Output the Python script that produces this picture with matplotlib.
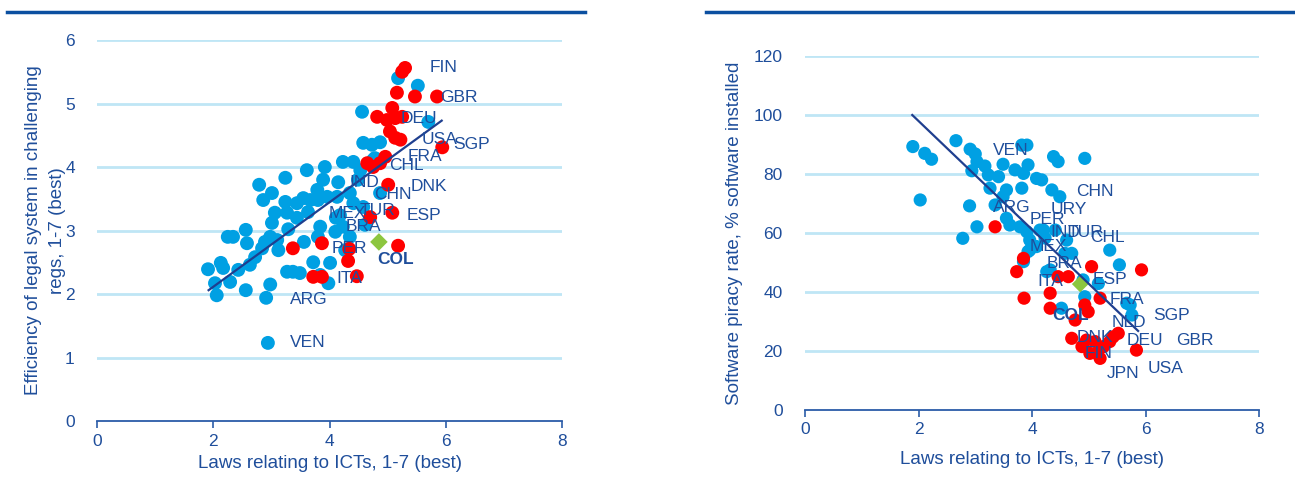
import matplotlib
matplotlib.use("Agg")
import matplotlib.pyplot as plt
from matplotlib.lines import Line2D

plt.rcParams['font.family'] = ['Liberation Sans', 'DejaVu Sans']

TXT = '#1F4E9B'
BLUE = '#00A0E3'
RED = '#FF0000'
GREEN = '#8CC63F'
GRID = '#BFE6F5'
SPINE = '#2B5CA8'
TREND = '#1F3F8F'

# ---------------- Left panel data ----------------
left_blue_x = [2.94, 2.91, 2.98, 2.56, 2.06, 1.91, 2.03, 2.13, 2.17, 2.29, 2.25, 2.34, 2.43, 2.56,
               2.58, 2.63, 2.72, 2.79, 2.86, 2.84, 2.89, 3.01, 2.98, 3.01, 3.06, 3.10, 3.12, 3.24,
               3.24, 3.27, 3.29, 3.27, 3.37, 3.49, 3.44, 3.44, 3.55, 3.56, 3.61, 3.63, 3.67, 3.79,
               3.80, 3.84, 3.80, 3.72, 3.84, 3.92, 3.89, 3.96, 4.01, 3.98, 4.15, 4.13, 4.18, 4.23,
               4.23, 4.41, 4.35, 4.41, 4.49, 4.53, 4.75, 4.35, 5.18, 5.52, 4.56, 4.58, 4.73, 4.87,
               4.78, 5.70, 4.58, 4.11, 4.87, 4.10, 4.27, 4.61]
left_blue_y = [1.23, 1.94, 2.15, 2.06, 1.98, 2.39, 2.17, 2.49, 2.41, 2.19, 2.90, 2.90, 2.38, 3.01,
               2.80, 2.46, 2.58, 3.72, 3.48, 2.72, 2.82, 3.59, 2.90, 3.12, 3.28, 2.85, 2.69, 3.83,
               3.45, 3.28, 3.02, 2.35, 2.35, 2.33, 3.20, 3.43, 3.51, 2.82, 3.95, 3.29, 3.48, 3.64,
               3.48, 3.06, 2.90, 2.50, 2.30, 4.00, 3.80, 3.53, 2.49, 2.17, 3.76, 3.53, 3.24, 3.06,
               4.08, 4.08, 3.59, 3.43, 3.80, 3.95, 4.11, 2.90, 5.40, 5.28, 4.87, 4.38, 4.35, 4.39,
               4.14, 4.71, 3.37, 3.20, 3.59, 2.98, 2.69, 3.09]
left_red_x = [5.30, 5.25, 5.16, 5.47, 5.85, 5.08, 4.82, 4.99, 5.13, 5.25, 5.04, 5.13, 5.22, 4.96,
              4.87, 4.65, 4.75, 5.94, 5.01, 5.08, 4.70, 5.18, 3.37, 3.87, 3.72, 3.87, 4.32, 4.47, 4.34]
left_red_y = [5.56, 5.50, 5.17, 5.11, 5.11, 4.93, 4.79, 4.74, 4.77, 4.79, 4.56, 4.46, 4.43, 4.16,
              4.06, 4.06, 4.00, 4.31, 3.72, 3.28, 3.21, 2.76, 2.72, 2.80, 2.27, 2.27, 2.52, 2.28, 2.71]
left_col = (4.85, 2.82)
left_trend_x = [1.92, 5.93]
left_trend_y = [2.06, 4.73]
left_labels = ['FIN', 'GBR', 'DEU', 'USA', 'SGP', 'FRA', 'CHL', 'DNK', 'IND', 'CHN', 'TUR', 'MEX',
               'ESP', 'BRA', 'PER', 'COL', 'ITA', 'ARG', 'VEN']
left_label_x = [5.73, 5.90, 5.22, 5.59, 6.13, 5.35, 5.03, 5.39, 4.34, 4.77, 4.51, 3.99,
                5.32, 4.27, 4.04, 4.82, 4.11, 3.32, 3.32]
left_label_y = [5.56, 5.09, 4.76, 4.43, 4.35, 4.16, 4.03, 3.69, 3.75, 3.57, 3.32, 3.26,
                3.24, 3.06, 2.72, 2.54, 2.25, 1.92, 1.23]

# ---------------- Right panel data ----------------
right_blue_x = [1.90, 2.11, 2.23, 2.66, 2.91, 3.00, 3.03, 2.94, 3.17, 3.23, 3.41, 3.49, 3.70, 3.82,
                3.91, 3.93, 3.85, 4.08, 4.17, 3.82, 3.55, 3.49, 3.26, 4.38, 4.46, 4.35, 4.49, 2.03,
                2.90, 3.35, 3.55, 3.03, 2.78, 3.79, 3.91, 4.20, 4.08, 3.96, 3.85, 4.32, 4.93, 5.37,
                5.54, 4.93, 5.17, 4.70, 4.61, 4.41, 4.14, 3.93, 4.58, 4.26, 4.90, 4.52, 5.73, 5.76,
                5.67, 3.61, 3.96, 4.23]
right_blue_y = [89.3, 87.0, 85.0, 91.3, 88.4, 86.8, 84.2, 81.1, 82.7, 79.7, 79.1, 83.3, 81.4, 89.8,
                89.8, 83.1, 80.2, 78.5, 78.0, 75.2, 74.6, 72.3, 75.2, 85.9, 84.2, 74.6, 72.3, 71.2,
                69.2, 69.5, 65.0, 62.1, 58.2, 62.1, 60.4, 61.0, 55.4, 54.2, 50.3, 47.5, 85.3, 54.2,
                49.2, 38.4, 42.9, 53.1, 57.6, 61.0, 61.0, 53.7, 53.1, 46.9, 44.1, 34.5, 35.6, 32.2,
                36.2, 62.7, 57.6, 58.3]
right_red_x = [3.35, 3.73, 3.85, 4.46, 4.64, 5.93, 5.05, 4.32, 3.86, 4.32, 4.93, 4.99, 4.76, 5.20,
               5.84, 4.70, 4.88, 4.96, 5.14, 5.26, 5.43, 5.52, 5.20, 5.02, 5.11, 5.37]
right_red_y = [62.1, 46.9, 51.4, 45.2, 45.2, 47.5, 48.6, 39.6, 37.9, 34.5, 35.6, 33.3, 30.5, 37.9,
               20.3, 24.3, 21.5, 23.7, 19.2, 21.5, 24.8, 26.0, 17.5, 19.2, 23.2, 23.2]
right_col = (4.85, 42.7)
right_trend_x = [1.89, 5.87]
right_trend_y = [100.0, 26.8]
right_labels = ['VEN', 'CHN', 'ARG', 'URY', 'PER', 'IND', 'TUR', 'CHL', 'MEX', 'BRA', 'ESP', 'ITA',
                'FRA', 'COL', 'SGP', 'NLD', 'DNK', 'DEU', 'GBR', 'FIN', 'JPN', 'USA']
right_label_x = [3.31, 4.78, 3.31, 4.32, 3.96, 4.32, 4.62, 5.02, 3.96, 4.26, 5.07, 4.09,
                 5.37, 4.35, 6.13, 5.41, 4.79, 5.67, 6.54, 4.93, 5.32, 6.04]
right_label_y = [88.1, 73.9, 68.8, 67.8, 64.7, 60.3, 60.3, 58.6, 55.3, 49.8, 44.4, 43.4,
                 37.3, 32.2, 31.9, 29.8, 24.7, 23.7, 23.7, 19.0, 12.5, 13.9]

x_ticks = [0, 2, 4, 6, 8]
left_y_ticks = [0, 1, 2, 3, 4, 5, 6]
right_y_ticks = [0, 20, 40, 60, 80, 100, 120]

FS = 12.5     # tick labels
AFS = 13.5    # axis titles
LFS = 12.5    # point labels

fig = plt.figure(figsize=(12.95, 4.95), dpi=100)

# top rules
fig.add_artist(Line2D([7/1295, 585/1295], [1 - 11.5/495] * 2, color='#0B4FA0', lw=2.5))
fig.add_artist(Line2D([706/1295, 1.0], [1 - 11.5/495] * 2, color='#0B4FA0', lw=2.5))


def style(ax, yticks, ylim, xpad):
    ax.set_xlim(0, 8)
    ax.set_ylim(*ylim)
    ax.set_xticks(x_ticks)
    ax.set_yticks(yticks)
    for s in ['top', 'right', 'left']:
        ax.spines[s].set_visible(False)
    ax.spines['bottom'].set_color(SPINE)
    ax.spines['bottom'].set_linewidth(1.3)
    ax.grid(axis='y', color=GRID, lw=2)
    ax.set_axisbelow(True)
    ax.tick_params(axis='x', colors=SPINE, direction='out', length=5, width=1.2,
                   labelcolor=TXT, labelsize=FS, pad=4)
    ax.tick_params(axis='y', length=0, labelcolor=TXT, labelsize=FS, pad=16)
    ax.set_xlabel('Laws relating to ICTs, 1-7 (best)', color=TXT, fontsize=AFS, labelpad=xpad)


axL = fig.add_axes([97/1295, 74/495, 465/1295, 381/495])
style(axL, left_y_ticks, (0, 6), 5)
axL.set_ylabel('Efficiency of legal system in challenging\nregs, 1-7 (best)', color=TXT,
               fontsize=AFS, labelpad=-1, linespacing=1.6)
axL.yaxis.get_major_ticks()[0].gridline.set_visible(False)
axL.scatter(left_blue_x, left_blue_y, s=100, color=BLUE, edgecolors='none', zorder=3)
axL.scatter(left_red_x, left_red_y, s=100, color=RED, edgecolors='none', zorder=3)
axL.scatter([left_col[0]], [left_col[1]], s=80, color=GREEN, marker='D', edgecolors='none', zorder=4)
axL.plot(left_trend_x, left_trend_y, color=TREND, lw=1.6, zorder=5)
for lab, x, y in zip(left_labels, left_label_x, left_label_y):
    axL.text(x, y, lab, color=TXT, fontsize=LFS, ha='left', va='center', zorder=6,
             fontweight='bold' if lab == 'COL' else 'normal')

axR = fig.add_axes([805/1295, 85/495, 454/1295, 354/495])
style(axR, right_y_ticks, (0, 120), 10)
axR.set_ylabel('Software piracy rate, % software installed', color=TXT, fontsize=AFS, labelpad=8)
axR.yaxis.get_major_ticks()[0].gridline.set_visible(False)
axR.scatter(right_blue_x, right_blue_y, s=90, color=BLUE, edgecolors='none', zorder=3)
axR.scatter(right_red_x, right_red_y, s=90, color=RED, edgecolors='none', zorder=3)
axR.scatter([right_col[0]], [right_col[1]], s=72, color=GREEN, marker='D', edgecolors='none', zorder=4)
axR.plot(right_trend_x, right_trend_y, color=TREND, lw=1.6, zorder=5)
for lab, x, y in zip(right_labels, right_label_x, right_label_y):
    axR.text(x, y, lab, color=TXT, fontsize=LFS, ha='left', va='center', zorder=6,
             fontweight='bold' if lab == 'COL' else 'normal')

fig.savefig('out.png', dpi=100)
